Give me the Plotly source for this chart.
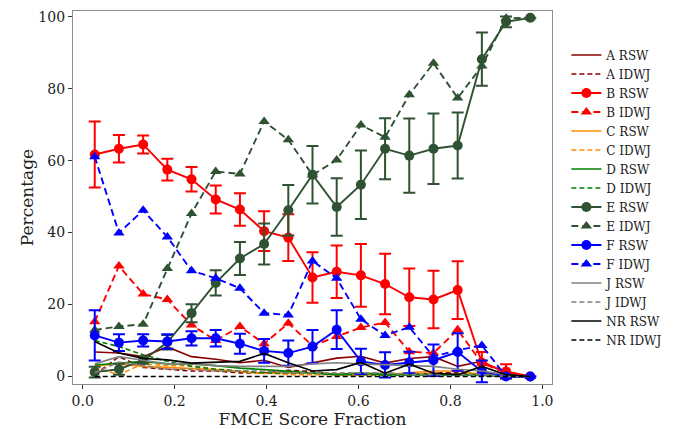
import plotly.graph_objects as go

N = 19
x_vals = [(i + 0.5) / N for i in range(N)]

a_rsw = [6.8, 6.5, 5.5, 8.2, 5.5, 4.8, 3.8, 4.5, 2.5, 3.8, 5.1, 5.6, 3.7, 5.0, 5.5, 2.8, 4.2, 0.9, 0]
a_idwj = [0.5, 5.5, 2.5, 2.0, 1.5, 1.5, 1.0, 1.0, 1.7, 1.4, 0.5, 0.5, 1.0, 0.5, 1.0, 1.0, 0.5, 0, 0]
b_rsw = [61.7, 63.3, 64.5, 57.5, 54.8, 49.2, 46.4, 40.4, 38.6, 27.5, 29.1, 28.1, 25.7, 22.0, 21.4, 24.0, 3.8, 1.4, 0]
b_rsw_err = [9.2, 3.8, 2.5, 3.0, 3.4, 3.9, 4.5, 5.5, 6.5, 7.0, 7.3, 8.7, 8.4, 8.0, 8.0, 8.0, 3.0, 2.0, 0]
b_idwj = [15.2, 30.7, 22.9, 21.4, 14.3, 10.0, 13.9, 9.1, 14.8, 8.5, 11.1, 13.6, 15.0, 6.9, 6.5, 13.0, 3.7, 1.0, 0]
c_rsw = [3.0, 3.5, 2.8, 2.5, 2.3, 1.9, 1.4, 0.8, 1.0, 0.8, 0.5, 0.5, 0.5, 1.0, 1.5, 1.5, 0.5, 0, 0]
c_idwj = [2.5, 0.5, 3.5, 3.0, 3.0, 2.0, 1.5, 1.0, 0.5, 0.5, 0.5, 0.5, 0.5, 0.5, 1.0, 0.5, 0.5, 0, 0]
d_rsw = [3.2, 3.7, 4.2, 3.5, 3.5, 3.0, 2.3, 1.9, 1.4, 0.9, 0.5, 1.0, 0.5, 0.5, 0.5, 0.5, 0.5, 0, 0]
d_idwj = [10.0, 8.3, 6.0, 4.2, 2.8, 2.0, 1.5, 1.0, 1.0, 1.0, 0.5, 0.5, 0.3, 0.5, 0.5, 0.3, 0.3, 0, 0]
e_rsw = [1.2, 2.0, 4.5, 9.5, 17.6, 26.0, 32.8, 36.8, 46.2, 56.1, 47.1, 53.3, 63.3, 61.4, 63.3, 64.2, 88.2, 98.6, 99.7]
e_rsw_err = [1.5, 1.5, 1.0, 2.0, 2.5, 3.5, 4.6, 5.7, 7.0, 8.0, 8.0, 9.5, 8.5, 10.3, 9.8, 9.2, 7.4, 1.5, 0]
e_idwj = [12.9, 13.9, 14.5, 30.0, 45.3, 57.0, 56.3, 70.9, 65.8, 56.0, 60.2, 69.9, 66.5, 78.3, 87.1, 77.4, 86.3, 99.6, 99.7]
f_rsw = [11.4, 9.4, 10.0, 9.7, 10.6, 10.6, 9.1, 7.1, 6.5, 8.3, 13.0, 4.2, 3.2, 3.9, 4.5, 6.8, 1.4, 0, 0]
f_rsw_err = [7.0, 2.3, 1.7, 2.0, 2.0, 2.3, 2.8, 3.3, 3.5, 4.6, 5.4, 3.5, 3.5, 3.0, 4.4, 5.2, 3.0, 0.5, 0]
f_idwj = [61.1, 39.9, 46.2, 38.8, 29.4, 27.3, 24.5, 17.6, 17.1, 32.1, 27.3, 15.9, 11.4, 13.7, 5.5, 7.3, 8.6, 0, 0]
j_rsw = [3.5, 5.5, 4.5, 3.5, 3.5, 3.0, 2.8, 2.8, 2.8, 3.5, 3.8, 3.5, 3.2, 3.0, 2.8, 2.0, 1.5, 0.5, 0]
j_idwj = [1.0, 4.0, 3.0, 2.0, 2.0, 1.5, 1.5, 1.5, 1.0, 1.0, 1.0, 1.0, 1.0, 0.5, 0.5, 0.5, 0.5, 0, 0]
nr_rsw = [9.7, 6.5, 5.0, 4.6, 3.7, 4.0, 4.2, 6.4, 3.8, 1.5, 1.9, 3.9, 0.9, 3.4, 0.9, 0.5, 2.8, 0.5, 0]
nr_idwj = [0] * N

x_ticks = [0.0, 0.2, 0.4, 0.6, 0.8, 1.0]
y_ticks = [0, 20, 40, 60, 80, 100]

FONT = "DejaVu Serif"
E_COL = "#2f5233"

fig = go.Figure()


def thin(name, y, color, dashed):
    fig.add_trace(go.Scatter(
        x=x_vals, y=y, name=name, mode="lines",
        line=dict(color=color, width=1.6, dash="5px,3px" if dashed else "solid"),
    ))


def marked(name, y, color, symbol, err=None, dashed=False):
    kw = {}
    if err is not None:
        kw["error_y"] = dict(type="data", array=err, visible=True, color=color,
                             thickness=2, width=6)
    fig.add_trace(go.Scatter(
        x=x_vals, y=y, name=name, mode="lines+markers",
        line=dict(color=color, width=1.9, dash="7px,4px" if dashed else "solid"),
        marker=dict(color=color, symbol=symbol, size=10),
        **kw,
    ))


thin("A RSW", a_rsw, "#8b0000", False)
thin("A IDWJ", a_idwj, "#8b0000", True)
marked("B RSW", b_rsw, "#ff0000", "circle", b_rsw_err)
marked("B IDWJ", b_idwj, "#ff0000", "triangle-up", dashed=True)
thin("C RSW", c_rsw, "#ff8c00", False)
thin("C IDWJ", c_idwj, "#ff8c00", True)
thin("D RSW", d_rsw, "#008000", False)
thin("D IDWJ", d_idwj, "#008000", True)
marked("E RSW", e_rsw, E_COL, "circle", e_rsw_err)
marked("E IDWJ", e_idwj, E_COL, "triangle-up", dashed=True)
marked("F RSW", f_rsw, "#0000ff", "circle", f_rsw_err)
marked("F IDWJ", f_idwj, "#0000ff", "triangle-up", dashed=True)
thin("J RSW", j_rsw, "#808080", False)
thin("J IDWJ", j_idwj, "#808080", True)
thin("NR RSW", nr_rsw, "#000000", False)
thin("NR IDWJ", nr_idwj, "#000000", True)

axis_common = dict(
    showgrid=False, zeroline=False, showline=True, mirror=True,
    linecolor="#8c8c8c", linewidth=1.2, ticks="outside", ticklen=4,
    tickcolor="#333333", tickfont=dict(family=FONT, size=14, color="#222222"),
)

fig.update_layout(
    width=673, height=429,
    margin=dict(l=73, r=121, t=11, b=45, autoexpand=False),
    paper_bgcolor="white", plot_bgcolor="white",
    font=dict(family=FONT, size=13, color="#222222"),
    xaxis=dict(range=[-0.021, 1.021], tickvals=x_ticks,
               ticktext=[f"{v:.1f}" for v in x_ticks],
               title=dict(text="FMCE Score Fraction", font=dict(family=FONT, size=17), standoff=0),
               automargin=True, **axis_common),
    yaxis=dict(range=[-2.1, 101.6], tickvals=y_ticks,
               title=dict(text="Percentage", font=dict(family=FONT, size=17), standoff=0),
               automargin=False, **axis_common),
    legend=dict(x=1.03, y=0.5, xanchor="left", yanchor="middle",
                font=dict(family=FONT, size=12), tracegroupgap=0,
                bgcolor="rgba(0,0,0,0)", itemwidth=30),
    showlegend=True,
)

fig.write_html("out.html")
